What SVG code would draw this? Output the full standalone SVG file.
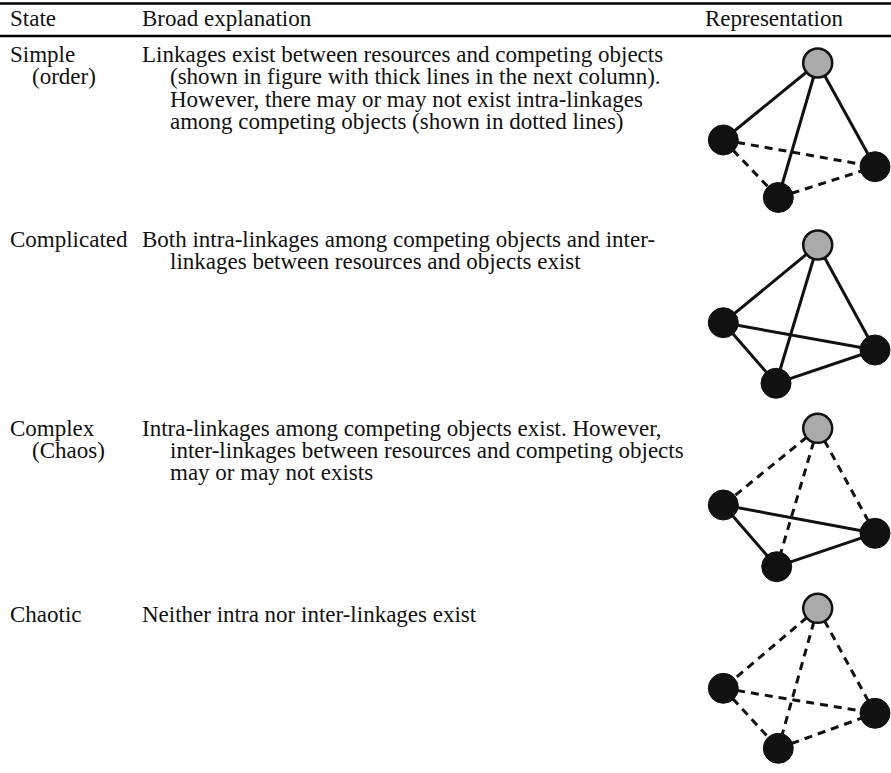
<svg xmlns="http://www.w3.org/2000/svg" width="891" height="773" viewBox="0 0 891 773">
<style>
text{font-family:"Liberation Serif","Times New Roman",serif;font-size:23px;fill:#111}
.rule{stroke:#000;stroke-width:2.6}
.e{stroke:#111;stroke-width:3;stroke-linecap:butt;fill:none}
.d{stroke:#111;stroke-width:3;stroke-dasharray:8 6;fill:none}
.r{fill:#aaa;stroke:#111;stroke-width:2.5}
.o{fill:#111;stroke:#111;stroke-width:1}
</style>
<rect width="891" height="773" fill="#fff"/>
<g id="table-rules">
<line class="rule" x1="0" y1="3.5" x2="891" y2="3.5"/>
<line class="rule" x1="0" y1="36" x2="891" y2="36"/>
</g>
<g id="header">
<text x="10" y="26">State</text>
<text x="142" y="26">Broad explanation</text>
<text x="705" y="26">Representation</text>
</g>
<g id="row-simple">
<text x="10" y="62">Simple</text>
<text x="32" y="84">(order)</text>
<text x="142" y="62">Linkages exist between resources and competing objects</text>
<text x="170" y="84">(shown in figure with thick lines in the next column).</text>
<text x="170" y="106.5">However, there may or may not exist intra-linkages</text>
<text x="170" y="128.5">among competing objects (shown in dotted lines)</text>
</g>
<g id="row-complicated">
<text x="10" y="247">Complicated</text>
<text x="142" y="247">Both intra-linkages among competing objects and inter-</text>
<text x="170" y="269">linkages between resources and objects exist</text>
</g>
<g id="row-complex">
<text x="10" y="436">Complex</text>
<text x="32" y="458">(Chaos)</text>
<text x="142" y="436">Intra-linkages among competing objects exist. However,</text>
<text x="170" y="458">inter-linkages between resources and competing objects</text>
<text x="170" y="480">may or may not exists</text>
</g>
<g id="row-chaotic">
<text x="10" y="622">Chaotic</text>
<text x="142" y="622">Neither intra nor inter-linkages exist</text>
</g>
<g id="connectors">
<line class="e" x1="817.7" y1="63" x2="723.3" y2="140"/>
<line class="e" x1="817.7" y1="63" x2="778.3" y2="197.5"/>
<line class="e" x1="817.7" y1="63" x2="875" y2="166.7"/>
<line class="d" x1="723.3" y1="140" x2="875" y2="166.7"/>
<line class="d" x1="723.3" y1="140" x2="778.3" y2="197.5"/>
<line class="d" x1="778.3" y1="197.5" x2="875" y2="166.7"/>
<line class="e" x1="817.7" y1="245" x2="723.3" y2="322.7"/>
<line class="e" x1="817.7" y1="245" x2="776" y2="383.3"/>
<line class="e" x1="817.7" y1="245" x2="875" y2="350"/>
<line class="e" x1="723.3" y1="322.7" x2="875" y2="350"/>
<line class="e" x1="723.3" y1="322.7" x2="776" y2="383.3"/>
<line class="e" x1="776" y1="383.3" x2="875" y2="350"/>
<line class="d" x1="817.7" y1="428.3" x2="723.3" y2="505"/>
<line class="d" x1="817.7" y1="428.3" x2="776.7" y2="566.7"/>
<line class="d" x1="817.7" y1="428.3" x2="875" y2="533.3"/>
<line class="e" x1="723.3" y1="505" x2="875" y2="533.3"/>
<line class="e" x1="723.3" y1="505" x2="776.7" y2="566.7"/>
<line class="e" x1="776.7" y1="566.7" x2="875" y2="533.3"/>
<line class="d" x1="817.7" y1="608.3" x2="723.3" y2="688.3"/>
<line class="d" x1="817.7" y1="608.3" x2="778.3" y2="748.3"/>
<line class="d" x1="817.7" y1="608.3" x2="875" y2="713.3"/>
<line class="d" x1="723.3" y1="688.3" x2="875" y2="713.3"/>
<line class="d" x1="723.3" y1="688.3" x2="778.3" y2="748.3"/>
<line class="d" x1="778.3" y1="748.3" x2="875" y2="713.3"/>
</g>
<g id="graph-simple">
<circle class="r" cx="817.7" cy="63" r="14.5"/>
<circle class="o" cx="723.3" cy="140" r="15"/>
<circle class="o" cx="875" cy="166.7" r="15"/>
<circle class="o" cx="778.3" cy="197.5" r="15"/>
</g>
<g id="graph-complicated">
<circle class="r" cx="817.7" cy="245" r="14.5"/>
<circle class="o" cx="723.3" cy="322.7" r="15"/>
<circle class="o" cx="875" cy="350" r="15"/>
<circle class="o" cx="776" cy="383.3" r="15"/>
</g>
<g id="graph-complex">
<circle class="r" cx="817.7" cy="428.3" r="14.5"/>
<circle class="o" cx="723.3" cy="505" r="15"/>
<circle class="o" cx="875" cy="533.3" r="15"/>
<circle class="o" cx="776.7" cy="566.7" r="15"/>
</g>
<g id="graph-chaotic">
<circle class="r" cx="817.7" cy="608.3" r="14.5"/>
<circle class="o" cx="723.3" cy="688.3" r="15"/>
<circle class="o" cx="875" cy="713.3" r="15"/>
<circle class="o" cx="778.3" cy="748.3" r="15"/>
</g>
</svg>
